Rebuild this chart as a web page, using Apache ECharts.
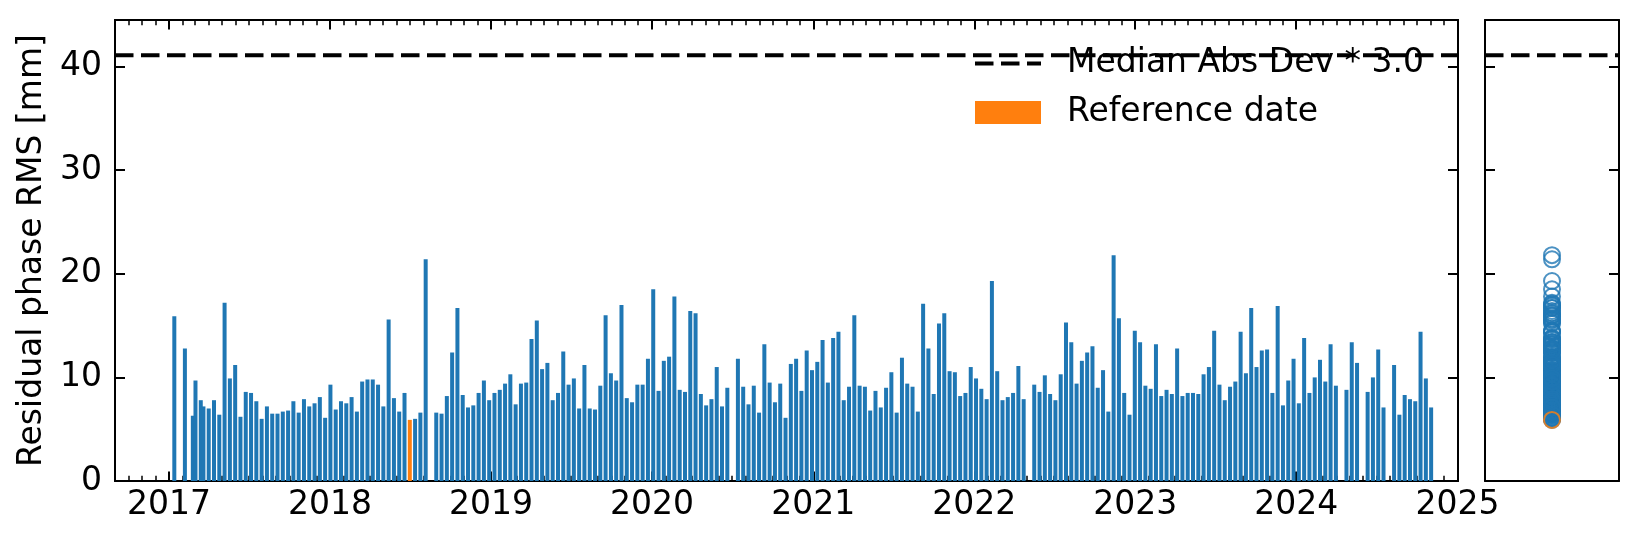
<!DOCTYPE html>
<html><head><meta charset="utf-8">
<script src="https://cdn.jsdelivr.net/npm/echarts@6/dist/echarts.min.js"></script>
<style>html,body{margin:0;padding:0;background:#fff}#c{width:1640px;height:545px}</style>
</head><body><div id="c"></div>
<script>
// ---------- data ----------
const dates = [
'2017-01-13','2017-02-06','2017-02-24','2017-03-02','2017-03-14','2017-03-20','2017-04-01','2017-04-13','2017-04-25','2017-05-07','2017-05-19','2017-05-31','2017-06-12','2017-06-24','2017-07-06','2017-07-18','2017-07-30','2017-08-11','2017-08-23','2017-09-04','2017-09-16','2017-09-28','2017-10-10','2017-10-22','2017-11-03','2017-11-15','2017-11-27','2017-12-09','2017-12-21',
'2018-01-02','2018-01-14','2018-01-26','2018-02-07','2018-02-19','2018-03-03','2018-03-15','2018-03-27','2018-04-08','2018-04-20','2018-05-02','2018-05-14','2018-05-26','2018-06-07','2018-06-19','2018-07-01','2018-07-13','2018-07-25','2018-08-06','2018-08-30','2018-09-11','2018-09-23','2018-10-05','2018-10-17','2018-10-29','2018-11-10','2018-11-22','2018-12-04','2018-12-16','2018-12-28',
'2019-01-09','2019-01-21','2019-02-02','2019-02-14','2019-02-26','2019-03-10','2019-03-22','2019-04-03','2019-04-15','2019-04-27','2019-05-09','2019-05-21','2019-06-02','2019-06-14','2019-06-26','2019-07-08','2019-07-20','2019-08-01','2019-08-13','2019-08-25','2019-09-06','2019-09-18','2019-09-30','2019-10-12','2019-10-24','2019-11-05','2019-11-17','2019-11-29','2019-12-11','2019-12-23',
'2020-01-04','2020-01-16','2020-01-28','2020-02-09','2020-02-21','2020-03-04','2020-03-16','2020-03-28','2020-04-09','2020-04-21','2020-05-03','2020-05-15','2020-05-27','2020-06-08','2020-06-20','2020-07-14','2020-07-26','2020-08-07','2020-08-19','2020-08-31','2020-09-12','2020-09-24','2020-10-06','2020-10-18','2020-10-30','2020-11-11','2020-11-23','2020-12-05','2020-12-17','2020-12-29',
'2021-01-10','2021-01-22','2021-02-03','2021-02-15','2021-02-27','2021-03-11','2021-03-23','2021-04-04','2021-04-16','2021-04-28','2021-05-10','2021-05-22','2021-06-03','2021-06-15','2021-06-27','2021-07-09','2021-07-21','2021-08-02','2021-08-14','2021-08-26','2021-09-07','2021-09-19','2021-10-01','2021-10-13','2021-10-25','2021-11-06','2021-11-18','2021-11-30','2021-12-12','2021-12-24',
'2022-01-05','2022-01-17','2022-01-29','2022-02-10','2022-02-22','2022-03-06','2022-03-18','2022-03-30','2022-04-11','2022-04-23','2022-05-17','2022-05-29','2022-06-10','2022-06-22','2022-07-04','2022-07-16','2022-07-28','2022-08-09','2022-08-21','2022-09-02','2022-09-14','2022-09-26','2022-10-08','2022-10-20','2022-11-01','2022-11-13','2022-11-25','2022-12-07','2022-12-19','2022-12-31',
'2023-01-12','2023-01-24','2023-02-05','2023-02-17','2023-03-01','2023-03-13','2023-03-25','2023-04-06','2023-04-18','2023-04-30','2023-05-12','2023-05-24','2023-06-05','2023-06-17','2023-06-29','2023-07-11','2023-07-23','2023-08-04','2023-08-16','2023-08-28','2023-09-09','2023-09-21','2023-10-03','2023-10-15','2023-10-27','2023-11-08','2023-11-20','2023-12-02','2023-12-14','2023-12-26',
'2024-01-07','2024-01-19','2024-01-31','2024-02-12','2024-02-24','2024-03-07','2024-03-19','2024-03-31','2024-04-24','2024-05-06','2024-05-18','2024-06-11','2024-06-23','2024-07-05','2024-07-17','2024-08-10','2024-08-22','2024-09-03','2024-09-15','2024-09-27','2024-10-09','2024-10-21','2024-11-02'
];
const rms = [
15.9,12.8,6.3,9.7,7.8,7.2,7.0,7.8,6.4,17.2,9.9,11.2,6.2,8.6,8.5,7.7,6.0,7.2,6.5,6.5,6.7,6.8,7.7,6.6,7.9,7.2,7.5,8.1,6.1,
9.3,6.9,7.7,7.5,8.1,6.7,9.6,9.8,9.8,9.3,7.2,15.6,8.0,6.7,8.5,5.9,6.0,6.6,21.4,6.6,6.5,8.2,12.4,16.7,8.3,7.1,7.3,8.5,9.7,7.8,
8.5,8.8,9.4,10.3,7.4,9.4,9.5,13.7,15.5,10.8,11.4,7.8,8.5,12.5,9.3,9.9,7.0,11.2,7.0,6.9,9.2,16.0,10.4,9.7,17.0,8.0,7.6,9.3,9.3,11.8,
18.5,8.7,11.6,12.0,17.8,8.8,8.6,16.4,16.2,8.4,7.3,7.9,11.0,7.2,9.0,11.8,9.1,7.4,9.2,6.6,13.2,9.5,7.6,9.4,6.1,11.3,11.8,8.7,12.6,10.7,
11.5,13.6,9.5,13.8,14.4,7.8,9.1,16.0,9.2,9.1,6.8,8.7,7.1,9.0,10.5,6.6,11.9,9.4,9.1,6.7,17.1,12.8,8.4,15.2,16.2,10.6,10.5,8.2,8.5,11.0,
9.9,8.9,7.9,19.3,10.6,7.8,8.1,8.5,11.1,7.9,9.3,8.6,10.2,8.4,7.8,10.3,15.3,13.4,9.4,11.6,12.4,13.0,9.0,10.7,6.7,21.8,15.7,8.5,6.4,14.5,
13.4,9.2,8.9,13.2,8.2,8.8,8.4,12.8,8.2,8.5,8.5,8.4,10.3,11.0,14.5,9.3,7.8,9.1,9.6,14.4,10.4,16.7,11.0,12.6,12.7,8.5,16.9,7.3,9.7,11.8,
7.5,13.8,8.5,10.0,11.7,9.6,13.2,9.2,8.8,13.4,11.4,8.6,10.0,12.7,7.1,11.2,6.4,8.3,7.9,7.7,14.4,9.9,7.1
];
const refDate = '2018-07-01';
const madThreshold = 41.1;
const yearTickLabels = ['2017','2018','2019','2020','2021','2022','2023','2024','2025'];
const yTickLabels = [0, 10, 20, 30, 40];
const yMax = 44.5;

// ---------- helpers ----------
function ts(s){ const p = s.split('-').map(Number); return Date.UTC(p[0], p[1]-1, p[2]); }
const xMin = Date.UTC(2016, 7, 31, 12);
const xMax = Date.UTC(2025, 0, 1, 22);
const yearVals = yearTickLabels.map(y => Date.UTC(+y, 0, 1));
const monthVals = [];
for (let y = 2016; y <= 2025; y++) for (let m = 0; m < 12; m++) {
  const v = Date.UTC(y, m, 1); if (v >= xMin && v <= xMax) monthVals.push(v);
}
const refIdx = dates.indexOf(refDate);
const refVal = rms[refIdx];
const blueBars = [];
dates.forEach((d, i) => { if (i !== refIdx) blueBars.push([ts(d), rms[i]]); });

const BLUE = '#1f77b4', ORANGE = '#ff7f0e', FONT = 'DejaVu Sans', FS = 33;
const lineStyleAx = { color: '#000', width: 2 };
function xAx(grid, pos, min, max, ticks, len, w, labels) {
  return {
    gridIndex: grid, type: 'value', position: pos, min: min, max: max,
    axisLine: { show: true, onZero: false, lineStyle: lineStyleAx },
    axisTick: ticks ? { show: true, inside: true, length: len, lineStyle: { color: '#000', width: w }, customValues: ticks } : { show: false },
    axisLabel: labels ? { show: true, customValues: yearVals, formatter: v => String(new Date(v).getUTCFullYear()),
      fontSize: FS, color: '#000', fontFamily: FONT, margin: 8 } : { show: false },
    splitLine: { show: false }
  };
}
function yAx(grid, pos, labels) {
  const a = {
    gridIndex: grid, type: 'value', position: pos, min: 0, max: yMax,
    axisLine: { show: true, onZero: false, lineStyle: lineStyleAx },
    axisTick: { show: true, inside: true, length: 10, lineStyle: { color: '#000', width: 2 }, customValues: yTickLabels },
    axisLabel: labels ? { show: true, customValues: yTickLabels, fontSize: FS, color: '#000', fontFamily: FONT, margin: 13 } : { show: false },
    splitLine: { show: false }
  };
  if (labels) {
    a.name = 'Residual phase RMS [mm]'; a.nameLocation = 'middle'; a.nameRotate = 90; a.nameGap = 59;
    a.nameTextStyle = { fontSize: FS, color: '#000', fontFamily: FONT };
  }
  return a;
}
const dashIcon = 'path://M0,0h0.01v0.01h-0.01zM65.99,22.99h0.01v0.01h-0.01zM0,9.5h18.5v4h-18.5zM26,9.5h18.5v4h-18.5zM52,9.5h14v4h-14z';

const option = {
  animation: false,
  textStyle: { fontFamily: FONT },
  grid: [
    { left: 115, top: 20, width: 1343, height: 461 },
    { left: 1485, top: 20, width: 134, height: 461 }
  ],
  legend: {
    orient: 'vertical', left: 975, top: 43, padding: 0,
    itemWidth: 66, itemHeight: 23, itemGap: 8, selectedMode: false,
    textStyle: { fontSize: FS, color: '#000', fontFamily: FONT, padding: [8, 0, 0, 21], lineHeight: 33 },
    data: [
      { name: 'Median Abs Dev * 3.0', icon: dashIcon, itemStyle: { color: '#000' } },
      { name: 'Reference date', icon: 'rect', itemStyle: { color: ORANGE } }
    ]
  },
  xAxis: [
    xAx(0, 'bottom', xMin, xMax, yearVals, 9.5, 2, true),
    xAx(0, 'bottom', xMin, xMax, monthVals, 5.3, 1.5, false),
    xAx(0, 'top', xMin, xMax, yearVals, 9.5, 2, false),
    xAx(0, 'top', xMin, xMax, monthVals, 5.3, 1.5, false),
    xAx(1, 'bottom', -1, 1, null, 0, 0, false),
    xAx(1, 'top', -1, 1, null, 0, 0, false)
  ],
  yAxis: [ yAx(0, 'left', true), yAx(0, 'right', false), yAx(1, 'left', false), yAx(1, 'right', false) ],
  series: [
    { type: 'bar', name: 'RMS', xAxisIndex: 0, yAxisIndex: 0, barWidth: 4, barGap: '-100%',
      itemStyle: { color: BLUE }, data: blueBars },
    { type: 'bar', name: 'Reference date', xAxisIndex: 0, yAxisIndex: 0, barWidth: 4, barGap: '-100%',
      itemStyle: { color: ORANGE }, data: [[ts(refDate), refVal]] },
    { type: 'line', name: 'Median Abs Dev * 3.0', xAxisIndex: 0, yAxisIndex: 0, symbol: 'none', z: 5,
      lineStyle: { color: '#000', width: 4, type: [18.5, 7.5] }, data: [[xMin, madThreshold], [xMax, madThreshold]] },
    { type: 'line', name: 'Median Abs Dev * 3.0', xAxisIndex: 4, yAxisIndex: 2, symbol: 'none', z: 5,
      lineStyle: { color: '#000', width: 4, type: [18.5, 7.5] }, data: [[-1, madThreshold], [1, madThreshold]] },
    { type: 'scatter', name: 'RMS', xAxisIndex: 4, yAxisIndex: 2, symbolSize: 16,
      itemStyle: { color: 'rgba(0,0,0,0)', borderColor: BLUE, borderWidth: 2 }, data: rms.map(v => [0, v]) },
    { type: 'scatter', name: 'Reference date', xAxisIndex: 4, yAxisIndex: 2, symbolSize: 16,
      itemStyle: { color: 'rgba(0,0,0,0)', borderColor: ORANGE, borderWidth: 2 }, data: [[0, refVal]] }
  ]
};
const chart = echarts.init(document.getElementById('c'), null, { renderer: 'canvas' });
chart.setOption(option);
</script>
</body></html>
